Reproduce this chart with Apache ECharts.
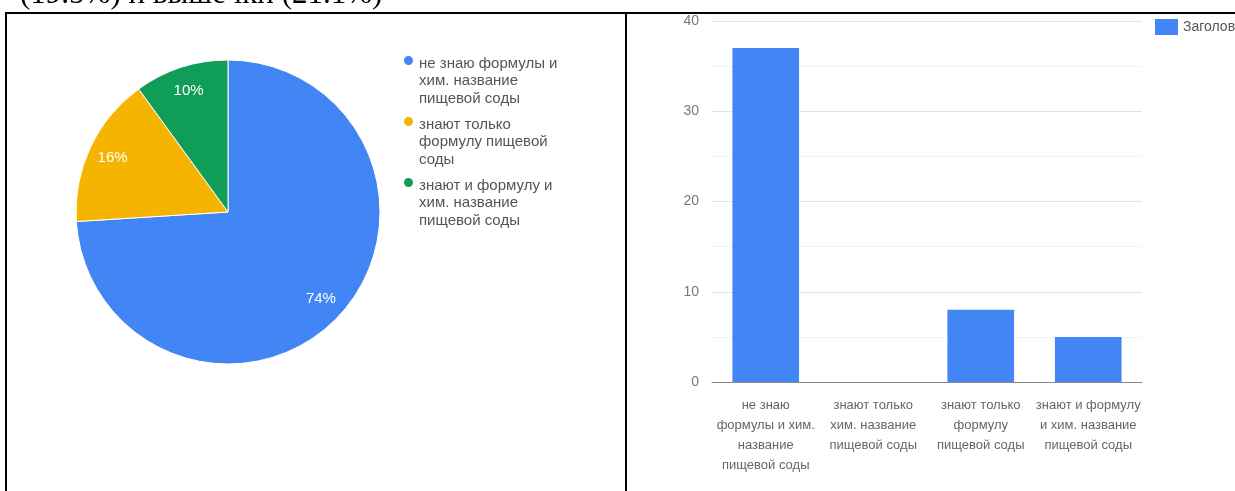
<!DOCTYPE html>
<html>
<head>
<meta charset="utf-8">
<script src="https://cdn.jsdelivr.net/npm/echarts@6/dist/echarts.min.js"></script>
<style>
  html, body { margin: 0; padding: 0; background: #fff; }
  #container { width: 1235px; height: 491px; }
</style>
</head>
<body>
<div id="container"></div>
<script>
// данные
var pieNames = [
    'не знаю формулы и хим. название пищевой соды',
    'знают только формулу пищевой соды',
    'знают и формулу и хим. название пищевой соды'
];
var pieLegendLabels = [
    'не знаю формулы и\nхим. название\nпищевой соды',
    'знают только\nформулу пищевой\nсоды',
    'знают и формулу и\nхим. название\nпищевой соды'
];
var pieValues = [37, 8, 5];
var pieColors = ['#4285f4', '#f4b400', '#0f9d58'];

var barCategories = [
    'не знаю\nформулы и хим.\nназвание\nпищевой соды',
    'знают только\nхим. название\nпищевой соды',
    'знают только\nформулу\nпищевой соды',
    'знают и формулу\nи хим. название\nпищевой соды'
];
var barValues = [37, 0, 8, 5];
var barSeriesName = 'Заголовок';
var yTicks = [0, 40, 10]; // min, max, interval

document.addEventListener('DOMContentLoaded', function () {
    var dom = document.getElementById('container');
    var myChart = echarts.init(dom);

    var pieData = pieNames.map(function (n, i) {
        return { name: n, value: pieValues[i], itemStyle: { color: pieColors[i] } };
    });

    var option = {
        animation: false,
        textStyle: { fontFamily: 'Liberation Sans, Arial, sans-serif' },
        legend: [
            {
                orient: 'vertical',
                left: 402,
                top: 54,
                padding: 0,
                itemGap: 7,
                itemWidth: 11,
                itemHeight: 52,
                // кружок сверху, чтобы стоял у первой строки
                icon: 'path://M0,5.5a5.5,5.5 0 1,0 11,0a5.5,5.5 0 1,0 -11,0zM0,52h11v0.001h-11z',
                data: pieNames,
                formatter: function (name) {
                    return pieLegendLabels[pieNames.indexOf(name)];
                },
                textStyle: { fontSize: 15, lineHeight: 17.5, color: '#555' },
                selectedMode: false
            },
            {
                left: 1155,
                top: 19,
                padding: 0,
                itemWidth: 23,
                itemHeight: 16,
                icon: 'rect',
                data: [barSeriesName],
                textStyle: { fontSize: 14, color: '#555' },
                selectedMode: false
            }
        ],
        grid: {
            left: 712,
            right: 93,
            top: 21,
            bottom: 109
        },
        xAxis: {
            type: 'category',
            data: barCategories,
            axisTick: { show: false },
            axisLine: { lineStyle: { color: '#888' } },
            axisLabel: {
                interval: 0,
                margin: 13,
                fontSize: 13,
                lineHeight: 20,
                color: '#666'
            }
        },
        yAxis: {
            type: 'value',
            min: yTicks[0],
            max: yTicks[1],
            interval: yTicks[2],
            axisLabel: { fontSize: 14, color: '#777', margin: 13 },
            splitLine: { lineStyle: { color: '#e3e3e3' } },
            minorTick: { show: false, splitNumber: 2 },
            minorSplitLine: { show: true, lineStyle: { color: '#f3f3f3' } }
        },
        series: [
            {
                type: 'pie',
                center: [228, 212],
                radius: 152,
                startAngle: 90,
                clockwise: true,
                data: pieData,
                label: { show: false },
                labelLine: { show: false },
                itemStyle: { borderColor: '#fff', borderWidth: 1 }
            },
            {
                // только подписи процентов
                type: 'pie',
                center: [228, 212],
                radius: [97, 152],
                startAngle: 90,
                clockwise: true,
                silent: true,
                data: pieData.map(function (d) {
                    return { name: d.name, value: d.value, itemStyle: { color: 'rgba(0,0,0,0)' } };
                }),
                label: {
                    show: true,
                    position: 'inside',
                    formatter: '{d}%',
                    color: '#fff',
                    fontSize: 15
                },
                labelLine: { show: false }
            },
            {
                type: 'bar',
                name: barSeriesName,
                data: barValues,
                barWidth: '62%',
                itemStyle: { color: '#4285f4' }
            }
        ],
        graphic: [
            {
                type: 'text',
                left: 20,
                top: -21,
                style: {
                    text: '(19.5%) и выше ікн (21.1%)',
                    font: '31px "Liberation Serif", "Times New Roman", serif',
                    fill: '#000'
                }
            },
            { type: 'rect', shape: { x: 5, y: 12, width: 1230, height: 2 }, style: { fill: '#000' } },
            { type: 'rect', shape: { x: 5, y: 12, width: 2, height: 479 }, style: { fill: '#000' } },
            { type: 'rect', shape: { x: 625, y: 12, width: 2, height: 479 }, style: { fill: '#000' } }
        ]
    };

    myChart.setOption(option);
    window.addEventListener('resize', myChart.resize);
});
</script>
</body>
</html>
